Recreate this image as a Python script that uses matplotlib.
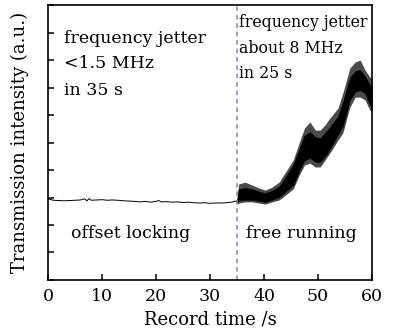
import matplotlib
matplotlib.use("Agg")
import matplotlib.pyplot as plt

plt.rcParams['font.family'] = ['DejaVu Serif']

# locked part (0-35 s)
t_lock = [0, 1, 2, 3, 4, 5, 6, 6.8, 7.2, 7.6, 8, 9, 10, 11, 12, 13, 14, 15,
          16, 17, 18, 19, 20, 20.5, 21, 22, 23, 24, 25, 26, 27, 28, 29, 30,
          31, 32, 33, 34, 35]
v_lock = [2.95, 2.90, 2.89, 2.88, 2.89, 2.90, 2.91, 2.95, 2.88, 2.96, 2.90,
          2.91, 2.92, 2.90, 2.91, 2.90, 2.88, 2.87, 2.86, 2.84, 2.86, 2.83,
          2.86, 2.89, 2.84, 2.85, 2.83, 2.84, 2.82, 2.83, 2.81, 2.80, 2.81,
          2.79, 2.80, 2.80, 2.81, 2.83, 2.88]

# free running part (35-60 s): spike extremes and dense core of the trace
t_free = [35.0, 35.3, 36.5, 37.8, 39.0, 40.2, 41.5, 42.8, 44.0, 45.4, 46.7,
          47.5, 48.5, 49.5, 50.4, 51.3, 52.2, 53.7, 54.6, 55.9, 56.9, 57.8,
          58.7, 59.6, 60.0]
v_upper = [2.91, 3.49, 3.56, 3.45, 3.35, 3.27, 3.38, 3.56, 3.93, 4.36, 5.09,
           5.53, 5.75, 5.45, 5.45, 5.64, 5.89, 6.25, 6.80, 7.71, 7.93, 8.00,
           7.64, 7.38, 7.35]
v_lower = [2.76, 2.80, 2.84, 2.84, 2.80, 2.76, 2.84, 2.91, 3.09, 3.31, 3.89,
           4.18, 4.25, 4.11, 4.11, 4.36, 4.62, 5.09, 5.35, 6.29, 6.65, 6.65,
           6.55, 6.18, 6.11]
core_upper = [2.88, 3.30, 3.35, 3.30, 3.22, 3.16, 3.25, 3.40, 3.75, 4.18, 4.85,
              5.25, 5.38, 5.20, 5.15, 5.35, 5.55, 5.95, 6.45, 7.35, 7.60, 7.64,
              7.40, 7.09, 7.05]
core_lower = [2.80, 2.90, 2.92, 2.92, 2.88, 2.84, 2.92, 3.02, 3.22, 3.45, 4.05,
              4.35, 4.44, 4.30, 4.29, 4.50, 4.75, 5.30, 5.60, 6.55, 6.85, 6.91,
              6.80, 6.36, 6.30]

t_switch = 35

fig = plt.figure(figsize=(3.93, 3.36), dpi=100)
ax = fig.add_axes([0.1221, 0.1667, 0.8245, 0.8183])

ax.plot(t_lock, v_lock, color='black', lw=0.7)
ax.fill_between(t_free, v_lower, v_upper, color='#4a4a4a', lw=0)
ax.fill_between(t_free, core_lower, core_upper, color='black', lw=0.4)
ax.axvline(t_switch, color='#7b86c4', lw=1.1, ls=(0, (3, 2.5)))

ax.text(3.0, 8.62, 'frequency jetter', fontsize=12.5)
ax.text(3.0, 7.71, '<1.5 MHz', fontsize=12.5)
ax.text(3.0, 6.73, 'in 35 s', fontsize=12.5)
ax.text(35.4, 9.2, 'frequency jetter', fontsize=11.3)
ax.text(35.4, 8.25, 'about 8 MHz', fontsize=11.3)
ax.text(35.4, 7.35, 'in 25 s', fontsize=11.3)
ax.text(4.2, 1.52, 'offset locking', fontsize=12.5)
ax.text(36.6, 1.52, 'free running', fontsize=12.5)

ax.set_xlim(0, 60)
ax.set_ylim(0, 10)
ax.set_xticks(range(0, 61, 10))
ax.set_yticks(range(0, 11))
ax.set_yticklabels([])
ax.tick_params(direction='in', length=4.5, width=1.1, labelsize=12.5, pad=6)
ax.tick_params(axis='y', right=False)
for s in ax.spines.values():
    s.set_linewidth(1.2)

ax.set_xlabel('Record time /s', fontsize=13, labelpad=4)
ax.set_ylabel('Transmission intensity (a.u.)', fontsize=13, labelpad=8)

fig.savefig('out.png', dpi=100)
